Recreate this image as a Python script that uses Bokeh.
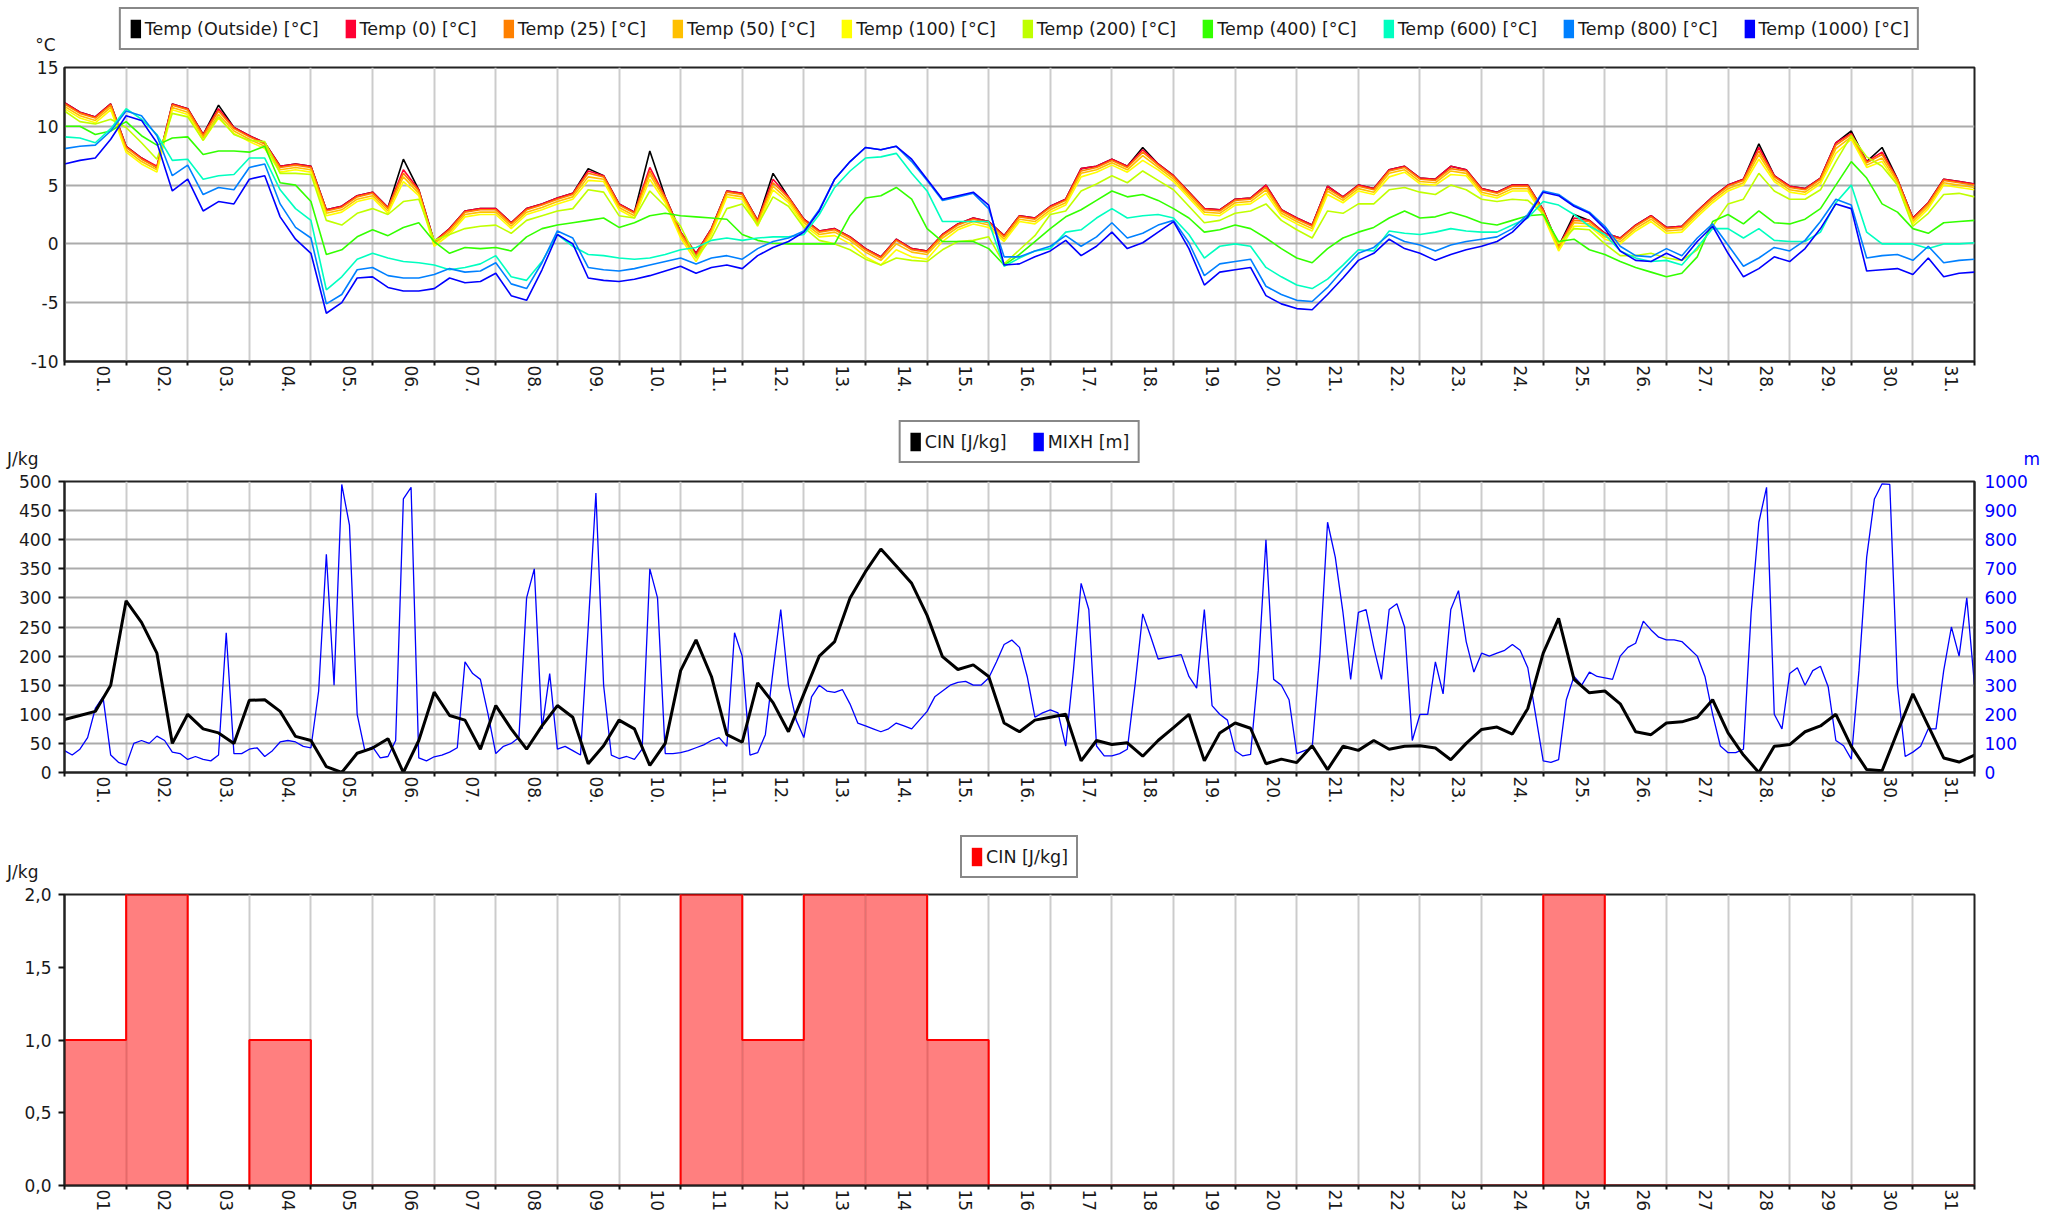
import math
from bokeh.plotting import figure
from bokeh.models import Range1d, LinearAxis, FixedTicker, Legend, LegendItem
from bokeh.layouts import column
from bokeh.embed import file_html
from bokeh.resources import INLINE

FONT = "DejaVu Sans"
TXT = "#1a1a1a"

# ---------------- data ----------------
DAYS = list(range(1, 32))
TOP_LABELS = [f"{d:02d}." for d in DAYS]
BOTTOM_LABELS = [f"{d:02d}" for d in DAYS]
DAY_EDGES = list(range(0, 32))
T_QUARTER = [i / 4 for i in range(125)]   # time in days, 6-hourly
T_EIGHTH = [i / 8 for i in range(249)]    # time in days, 3-hourly

TEMP_NAMES = ["Temp (Outside) [°C]", "Temp (0) [°C]", "Temp (25) [°C]", "Temp (50) [°C]",
              "Temp (100) [°C]", "Temp (200) [°C]", "Temp (400) [°C]", "Temp (600) [°C]",
              "Temp (800) [°C]", "Temp (1000) [°C]"]
TEMP_COLORS = ["#000000", "#FF0033", "#FF8000", "#FFC000", "#FFFF00", "#C0FF00",
               "#33FF00", "#00FFC0", "#0080FF", "#0000FF"]

T_OUT = [12.0, 11.2, 10.8, 11.9, 8.3, 7.3, 6.5, 11.9, 11.5, 9.3, 11.8, 9.9, 9.2, 8.6, 6.6, 6.8,
         6.6, 2.9, 3.2, 4.1, 4.4, 3.1, 7.2, 4.6, 0.2, 1.3, 2.8, 3.0, 3.0, 1.8, 3.0, 3.4,
         3.9, 4.3, 6.4, 5.8, 3.4, 2.7, 7.9, 4.0, 1.0, -0.8, 1.3, 4.5, 4.3, 2.0, 6.0, 4.0,
         2.1, 1.1, 1.3, 0.6, -0.4, -1.1, 0.4, -0.4, -0.6, 0.8, 1.7, 2.2, 1.9, 0.7, 2.4, 2.2,
         3.2, 3.8, 6.4, 6.6, 7.2, 6.6, 8.2, 6.8, 5.8, 4.4, 3.0, 2.9, 3.8, 3.9, 5.0, 2.9,
         2.2, 1.6, 4.9, 4.0, 5.0, 4.7, 6.3, 6.6, 5.6, 5.5, 6.6, 6.3, 4.7, 4.4, 5.0, 5.0,
         2.9, -0.2, 2.5, 2.0, 0.9, 0.5, 1.6, 2.4, 1.4, 1.5, 2.8, 4.0, 5.0, 5.5, 8.5, 5.8,
         4.9, 4.7, 5.6, 8.6, 9.6, 7.0, 8.2, 5.5, 2.2, 3.5, 5.5, 5.3, 5.1]
T_0 = [12.0, 11.2, 10.8, 11.9, 8.3, 7.3, 6.6, 11.9, 11.5, 9.3, 11.5, 9.9, 9.2, 8.6, 6.6, 6.8,
       6.6, 2.9, 3.2, 4.1, 4.4, 3.1, 6.3, 4.6, 0.2, 1.3, 2.8, 3.0, 3.0, 1.8, 3.0, 3.4,
       3.9, 4.3, 6.2, 5.8, 3.4, 2.7, 6.5, 4.0, 1.0, -0.8, 1.3, 4.5, 4.3, 2.0, 5.5, 4.0,
       2.1, 1.1, 1.3, 0.6, -0.4, -1.1, 0.4, -0.4, -0.6, 0.8, 1.7, 2.2, 1.9, 0.7, 2.4, 2.2,
       3.2, 3.8, 6.4, 6.6, 7.2, 6.6, 8.0, 6.8, 5.8, 4.4, 3.0, 2.9, 3.8, 3.9, 5.0, 2.9,
       2.2, 1.6, 4.9, 4.0, 5.0, 4.7, 6.3, 6.6, 5.6, 5.5, 6.6, 6.3, 4.7, 4.4, 5.0, 5.0,
       2.9, -0.2, 2.2, 2.0, 0.9, 0.5, 1.6, 2.4, 1.4, 1.5, 2.8, 4.0, 5.0, 5.5, 8.2, 5.8,
       4.9, 4.7, 5.6, 8.6, 9.4, 7.0, 7.8, 5.5, 2.2, 3.5, 5.5, 5.3, 5.1]
T_25 = [11.9, 11.1, 10.7, 11.8, 8.2, 7.2, 6.5, 11.8, 11.4, 9.2, 11.3, 9.8, 9.1, 8.5, 6.5, 6.7,
        6.5, 2.8, 3.1, 4.0, 4.3, 3.0, 6.0, 4.5, 0.1, 1.2, 2.7, 2.9, 2.9, 1.7, 2.9, 3.3,
        3.8, 4.2, 6.0, 5.7, 3.3, 2.6, 6.2, 3.9, 0.9, -1.0, 1.2, 4.4, 4.2, 1.9, 5.2, 3.9,
        2.0, 1.0, 1.2, 0.5, -0.5, -1.2, 0.3, -0.5, -0.7, 0.7, 1.6, 2.1, 1.8, 0.6, 2.3, 2.1,
        3.1, 3.7, 6.2, 6.5, 7.1, 6.5, 7.8, 6.7, 5.7, 4.3, 2.9, 2.8, 3.7, 3.8, 4.8, 2.8,
        2.1, 1.5, 4.7, 3.9, 4.9, 4.6, 6.2, 6.5, 5.5, 5.4, 6.4, 6.2, 4.6, 4.3, 4.9, 4.9,
        2.8, -0.3, 2.0, 1.9, 0.8, 0.4, 1.5, 2.3, 1.3, 1.4, 2.7, 3.9, 4.9, 5.4, 7.9, 5.7,
        4.8, 4.6, 5.5, 8.4, 9.3, 6.9, 7.6, 5.4, 2.1, 3.4, 5.4, 5.2, 5.0]
T_50 = [11.7, 10.9, 10.5, 11.6, 8.0, 7.0, 6.3, 11.6, 11.2, 9.0, 11.0, 9.6, 8.9, 8.3, 6.3, 6.5,
        6.3, 2.6, 2.9, 3.8, 4.1, 2.8, 5.7, 4.3, 0.0, 1.0, 2.5, 2.7, 2.7, 1.5, 2.7, 3.1,
        3.6, 4.0, 5.7, 5.5, 3.1, 2.4, 5.9, 3.7, 0.7, -1.2, 1.0, 4.2, 4.0, 1.7, 4.9, 3.7,
        1.8, 0.8, 1.0, 0.3, -0.7, -1.4, 0.0, -0.7, -0.9, 0.5, 1.4, 1.9, 1.6, 0.4, 2.1, 1.9,
        2.9, 3.5, 6.0, 6.3, 6.9, 6.3, 7.5, 6.5, 5.5, 4.1, 2.7, 2.6, 3.5, 3.6, 4.6, 2.6,
        1.9, 1.3, 4.5, 3.7, 4.7, 4.4, 6.0, 6.3, 5.3, 5.2, 6.2, 6.0, 4.4, 4.1, 4.7, 4.7,
        2.6, -0.4, 1.8, 1.7, 0.6, 0.2, 1.3, 2.1, 1.1, 1.2, 2.5, 3.7, 4.7, 5.2, 7.6, 5.5,
        4.6, 4.4, 5.3, 8.1, 9.1, 6.7, 7.3, 5.2, 1.9, 3.2, 5.2, 5.0, 4.8]
T_100 = [11.5, 10.7, 10.3, 11.4, 7.8, 6.8, 6.1, 11.4, 11.0, 8.8, 10.7, 9.4, 8.7, 8.1, 6.1, 6.3,
         6.1, 2.4, 2.7, 3.6, 3.9, 2.6, 5.3, 4.1, -0.2, 0.8, 2.3, 2.5, 2.5, 1.3, 2.5, 2.9,
         3.4, 3.8, 5.4, 5.3, 2.9, 2.2, 5.5, 3.5, 0.5, -1.5, 0.8, 4.0, 3.8, 1.5, 4.6, 3.5,
         1.6, 0.6, 0.7, 0.0, -1.1, -1.8, -0.5, -1.1, -1.3, 0.2, 1.2, 1.7, 1.4, 0.2, 1.9, 1.7,
         2.7, 3.3, 5.7, 6.1, 6.7, 6.1, 7.1, 6.3, 5.3, 3.9, 2.5, 2.4, 3.3, 3.4, 4.3, 2.4,
         1.7, 1.1, 4.2, 3.5, 4.5, 4.2, 5.7, 6.1, 5.1, 5.0, 5.9, 5.8, 4.2, 3.9, 4.5, 4.5,
         2.4, -0.6, 1.5, 1.5, 0.4, 0.0, 1.1, 1.9, 0.9, 1.0, 2.3, 3.5, 4.5, 5.0, 7.2, 5.3,
         4.4, 4.2, 5.1, 7.7, 8.9, 6.5, 7.0, 5.0, 1.7, 3.0, 5.0, 4.8, 4.6]
T_200 = [11.3, 10.4, 10.2, 10.6, 9.9, 8.6, 7.2, 11.1, 10.8, 8.8, 10.8, 9.3, 8.8, 8.7, 6.0, 6.0,
         5.9, 2.0, 1.6, 2.6, 3.0, 2.5, 3.6, 3.8, 0.3, 0.8, 1.3, 1.5, 1.6, 0.9, 2.0, 2.4,
         2.8, 3.0, 4.6, 4.4, 2.4, 2.2, 4.5, 3.2, 1.5, -1.2, 0.5, 3.0, 3.4, 1.6, 4.0, 3.2,
         1.4, 0.3, 0.0, -0.5, -1.3, -1.8, -1.2, -1.4, -1.5, -0.5, 0.2, 0.3, 0.6, -1.7, -0.5, 0.7,
         2.5, 2.8, 4.5, 5.1, 5.8, 5.2, 6.2, 5.4, 4.6, 3.2, 1.8, 2.0, 2.6, 2.8, 3.4, 2.0,
         1.2, 0.5, 2.8, 2.6, 3.4, 3.4, 4.6, 4.8, 4.4, 4.2, 5.0, 4.6, 3.8, 3.6, 3.8, 3.7,
         2.6, 0.0, 1.3, 1.2, 0.0, -1.0, -1.0, -0.8, -1.2, -1.4, -0.5, 1.5, 3.4, 3.8, 6.0, 4.5,
         3.8, 3.8, 4.6, 7.0, 9.2, 7.4, 6.6, 5.0, 1.5, 2.6, 4.2, 4.3, 4.0]
T_400 = [10.0, 10.0, 9.3, 9.6, 10.4, 9.2, 8.4, 9.0, 9.1, 7.6, 7.9, 7.9, 7.8, 8.3, 5.2, 5.0,
         3.6, -0.9, -0.5, 0.6, 1.2, 0.7, 1.4, 1.8, 0.2, -0.8, -0.3, -0.4, -0.3, -0.6, 0.6, 1.3,
         1.6, 1.8, 2.0, 2.2, 1.4, 1.8, 2.4, 2.6, 2.4, 2.3, 2.2, 2.1, 0.8, 0.3, 0.05, 0.0,
         0.0, 0.0, 0.0, 2.4, 3.9, 4.1, 4.8, 3.8, 1.3, 0.2, 0.2, 0.2, -0.4, -1.8, -0.9, 0.2,
         1.3, 2.3, 2.9, 3.7, 4.5, 4.0, 4.2, 3.7, 3.0, 2.2, 1.0, 1.2, 1.6, 1.3, 0.5, -0.4,
         -1.2, -1.6, -0.4, 0.5, 1.0, 1.4, 2.2, 2.8, 2.2, 2.3, 2.7, 2.3, 1.8, 1.6, 2.0, 2.4,
         2.5, 0.2, 0.4, -0.5, -0.9, -1.5, -2.0, -2.4, -2.8, -2.5, -1.1, 1.9, 2.5, 1.7, 2.8, 1.8,
         1.7, 2.1, 3.0, 5.0, 7.0, 5.6, 3.4, 2.7, 1.3, 0.9, 1.8, 1.9, 2.0]
T_600 = [9.1, 9.0, 8.6, 9.8, 11.5, 10.6, 9.3, 7.1, 7.2, 5.5, 5.8, 5.9, 7.3, 7.3, 4.6, 3.0,
         2.0, -3.9, -2.8, -1.3, -0.8, -1.2, -1.5, -1.6, -1.8, -2.2, -2.0, -1.7, -1.0, -2.8, -3.1, -1.5,
         0.8, -0.2, -0.9, -1.0, -1.2, -1.3, -1.2, -0.9, -0.5, -0.3, 0.3, 0.5, 0.3, 0.5, 0.6, 0.6,
         0.8, 2.5, 4.8, 6.2, 7.3, 7.4, 7.7, 6.0, 4.5, 1.9, 1.9, 1.9, 1.9, -1.9, -1.2, -0.6,
         -0.4, 1.0, 1.2, 2.2, 3.0, 2.2, 2.4, 2.5, 2.2, 0.8, -1.2, -0.2, 0.0, -0.2, -2.0, -2.8,
         -3.5, -3.8, -3.0, -1.8, -0.5, -0.6, 1.1, 0.9, 0.8, 1.0, 1.3, 1.1, 1.0, 1.0, 1.6, 2.2,
         3.6, 3.3, 2.5, 1.5, 0.8, -0.6, -1.2, -1.5, -1.4, -1.8, -0.3, 1.3, 1.3, 0.5, 1.3, 0.3,
         0.2, 0.2, 1.0, 3.5, 5.0, 1.0, 0.0, 0.0, 0.0, -0.4, 0.0, 0.0, 0.1]
T_800 = [8.1, 8.3, 8.4, 9.6, 11.3, 10.9, 9.2, 5.8, 6.7, 4.2, 4.8, 4.6, 6.5, 6.8, 3.4, 1.4,
         0.5, -5.1, -4.3, -2.2, -2.0, -2.7, -2.9, -2.9, -2.6, -2.1, -2.4, -2.3, -1.6, -3.4, -3.8, -1.6,
         1.1, 0.5, -2.0, -2.2, -2.3, -2.1, -1.8, -1.5, -1.2, -1.7, -1.2, -1.0, -1.3, -0.4, 0.2, 0.5,
         1.1, 2.9, 5.5, 7.0, 8.2, 8.0, 8.3, 7.0, 5.4, 3.7, 4.0, 4.3, 3.0, -1.1, -1.1, -0.6,
         -0.2, 0.7, -0.2, 0.6, 1.8, 0.5, 0.9, 1.6, 2.0, 0.1, -2.7, -1.7, -1.5, -1.3, -3.6, -4.3,
         -4.8, -4.9, -3.7, -2.2, -0.8, -0.3, 0.8, 0.2, -0.1, -0.6, -0.1, 0.2, 0.4, 0.6, 1.3, 2.5,
         4.5, 4.2, 3.3, 2.7, 1.5, -0.2, -1.0, -1.1, -0.4, -1.0, 0.5, 1.7, -0.1, -1.9, -1.2, -0.3,
         -0.6, 0.3, 1.9, 3.8, 3.3, -1.2, -1.0, -0.9, -1.4, -0.2, -1.6, -1.4, -1.3]
T_1000 = [6.8, 7.1, 7.3, 8.9, 10.9, 10.5, 8.6, 4.5, 5.5, 2.8, 3.6, 3.4, 5.5, 5.8, 2.3, 0.4,
          -0.8, -5.9, -5.0, -2.9, -2.8, -3.7, -4.0, -4.0, -3.8, -2.9, -3.3, -3.2, -2.5, -4.4, -4.8, -2.2,
          0.8, 0.0, -2.9, -3.1, -3.2, -3.0, -2.7, -2.3, -1.9, -2.5, -2.0, -1.8, -2.1, -1.0, -0.3, 0.2,
          1.0, 2.8, 5.5, 7.0, 8.2, 8.0, 8.3, 7.2, 5.5, 3.8, 4.1, 4.4, 3.3, -1.8, -1.7, -1.1,
          -0.6, 0.3, -1.0, -0.2, 1.0, -0.4, 0.1, 1.0, 1.9, -0.4, -3.5, -2.4, -2.2, -2.0, -4.4, -5.1,
          -5.5, -5.6, -4.3, -2.9, -1.4, -0.8, 0.4, -0.4, -0.8, -1.4, -0.9, -0.5, -0.2, 0.2, 1.0, 2.3,
          4.4, 4.1, 3.2, 2.6, 1.3, -0.6, -1.4, -1.5, -0.8, -1.4, 0.2, 1.5, -0.8, -2.8, -2.1, -1.1,
          -1.5, -0.4, 1.3, 3.4, 3.0, -2.3, -2.2, -2.1, -2.6, -1.2, -2.8, -2.5, -2.4]
TEMPS = [T_OUT, T_0, T_25, T_50, T_100, T_200, T_400, T_600, T_800, T_1000]

CIN = [91, 98, 105, 150, 295, 258, 205, 50, 100, 75, 68, 50, 124, 125, 105, 62,
       55, 10, 0, 33, 42, 58, 0, 55, 138, 98, 90, 40, 115, 75, 40, 80,
       115, 95, 15, 46, 90, 75, 12, 50, 175, 228, 165, 65, 52, 154, 120, 70,
       135, 200, 225, 300, 345, 384, 355, 325, 270, 199, 177, 185, 165, 85, 70, 90,
       95, 100, 20, 55, 48, 51, 28, 55, 77, 100, 20, 68, 85, 76, 15, 23,
       17, 46, 5, 45, 38, 55, 40, 45, 46, 42, 22, 50, 74, 78, 66, 110,
       205, 265, 160, 137, 140, 118, 70, 65, 85, 87, 95, 125, 68, 30, 0, 45,
       48, 70, 80, 100, 45, 5, 3, 70, 135, 80, 25, 18, 30]
MIXH = [75, 60, 80, 120, 220, 260, 60, 35, 25, 100, 110, 100, 125, 110, 70, 65,
        45, 55, 45, 40, 60, 480, 65, 65, 80, 85, 55, 75, 105, 110, 105, 90,
        85, 280, 750, 300, 990, 850, 200, 75, 88, 50, 55, 110, 940, 980, 50, 40,
        54, 60, 70, 85, 380, 340, 320, 200, 65, 90, 100, 120, 600, 700, 150, 340,
        80, 90, 75, 60, 500, 960, 300, 60, 48, 55, 45, 80, 700, 600, 65, 65,
        68, 75, 85, 95, 110, 120, 90, 480, 400, 60, 68, 130, 350, 560, 300, 180,
        120, 260, 300, 280, 275, 285, 235, 170, 160, 150, 140, 150, 170, 160, 150, 180,
        210, 260, 280, 300, 310, 313, 300, 300, 325, 380, 440, 455, 430, 330, 190, 205,
        215, 205, 91, 350, 650, 560, 91, 57, 57, 65, 80, 300, 545, 470, 390, 395,
        400, 405, 330, 290, 560, 230, 200, 180, 75, 57, 62, 350, 800, 320, 300, 250,
        65, 75, 85, 400, 860, 740, 550, 320, 550, 560, 430, 320, 560, 580, 500, 110,
        200, 200, 380, 270, 560, 625, 450, 345, 410, 400, 410, 420, 440, 420, 360, 200,
        40, 35, 44, 250, 330, 300, 345, 330, 325, 320, 400, 430, 444, 520, 490, 465,
        456, 456, 450, 425, 400, 330, 200, 91, 68, 68, 80, 550, 860, 980, 200, 150,
        340, 360, 300, 350, 365, 295, 110, 92, 46, 350, 740, 940, 992, 990, 300, 55,
        70, 90, 150, 150, 350, 500, 400, 600, 300]
CIN_DAILY = [1, 2, 0, 1, 0, 0, 0, 0, 0, 0, 2, 1, 2, 2, 1, 0, 0, 0, 0, 0, 0, 0, 0, 0, 2, 0, 0, 0, 0, 0, 0]

TEMP_TICKS = [-10, -5, 0, 5, 10, 15]
CIN_TICKS = [0, 50, 100, 150, 200, 250, 300, 350, 400, 450, 500]
MIXH_TICKS = [0, 100, 200, 300, 400, 500, 600, 700, 800, 900, 1000]
BAR_TICKS = [0.0, 0.5, 1.0, 1.5, 2.0]
BAR_TICK_LABELS = ["0,0", "0,5", "1,0", "1,5", "2,0"]

LABEL_POS = [d - 0.37 for d in DAYS]

# ---------------- layout constants ----------------
W = 2053
BL, BR = 64, 79                 # borders around the plot frame


def unit_axis(h, side, y, text, color, standoff):
    ax = LinearAxis(ticker=FixedTicker(ticks=[y]), major_label_overrides={y: text})
    ax.axis_line_color = None
    ax.major_tick_line_color = None
    ax.minor_tick_line_color = None
    ax.major_label_standoff = standoff
    ax.major_label_text_font = FONT
    ax.major_label_text_font_size = "17px"
    ax.major_label_text_color = color
    h.add_layout(ax, side)


def header(height, names, colors, legend_top, units):
    h = figure(width=W, height=height, x_range=Range1d(0, 31), y_range=Range1d(0, height),
               output_backend="svg", toolbar_location=None, title=None,
               x_axis_location=None, y_axis_location=None,
               min_border_left=BL, min_border_right=BR, min_border_top=0, min_border_bottom=0,
               background_fill_color="white", border_fill_color="white")
    h.grid.visible = False
    h.outline_line_color = None
    items = []
    for n, c in zip(names, colors):
        r = h.quad(left=[math.nan], right=[math.nan], top=[math.nan], bottom=[math.nan],
                   fill_color=c, line_color=None)
        items.append(LegendItem(label=n, renderers=[r]))
    leg = Legend(items=items, orientation="horizontal", location="top_center",
                 glyph_width=13, glyph_height=23, label_standoff=3, spacing=25,
                 padding=8, margin=legend_top, label_text_font=FONT, label_text_font_size="17.5px",
                 label_text_color=TXT, border_line_color="#111111", border_line_width=2,
                 background_fill_color="white", background_fill_alpha=1.0)
    h.add_layout(leg, "center")
    for side, y_from_top, text, color, standoff in units:
        unit_axis(h, side, height - y_from_top, text, color, standoff)
    return h


def make_fig(height, bottom, y0, y1, xlabels):
    p = figure(width=W, height=height, x_range=Range1d(0, 31), y_range=Range1d(y0, y1),
               output_backend="svg", toolbar_location=None, title=None,
               min_border_left=BL, min_border_right=BR, min_border_top=12, min_border_bottom=bottom,
               background_fill_color="white", border_fill_color="white")
    p.outline_line_color = "#222222"
    p.outline_line_width = 2
    ax = p.xaxis[0]
    ax.ticker = FixedTicker(ticks=LABEL_POS, minor_ticks=DAY_EDGES)
    ax.major_label_overrides = {pos: lab for pos, lab in zip(LABEL_POS, xlabels)}
    ax.major_label_orientation = -math.pi / 2
    ax.major_tick_out = 0
    ax.major_tick_in = 0
    ax.minor_tick_out = 4
    ax.minor_tick_in = 0
    ax.minor_tick_line_color = "#111111"
    ax.minor_tick_line_width = 2
    ax.major_label_standoff = 0
    ax.axis_label_standoff = 0
    ax.axis_line_color = "#222222"
    ax.axis_line_width = 2
    ax.major_label_text_font = FONT
    ax.major_label_text_font_size = "17px"
    ax.major_label_text_color = TXT
    p.xgrid.ticker = FixedTicker(ticks=DAY_EDGES)
    p.xgrid.grid_line_color = "#CCCCCC"
    p.xgrid.grid_line_width = 2
    p.ygrid.grid_line_color = "#ABABAB"
    p.ygrid.grid_line_width = 2
    ay = p.yaxis[0]
    ay.axis_line_color = "#222222"
    ay.axis_line_width = 2
    ay.major_label_text_font = FONT
    ay.major_label_text_font_size = "17px"
    ay.major_label_text_color = TXT
    ay.minor_tick_line_color = None
    return p


# ---------------- top: temperatures ----------------
h1 = header(55, TEMP_NAMES, TEMP_COLORS, 7, [("left", 46, "°C", TXT, 3)])
p1 = make_fig(353, 47, -10, 15, TOP_LABELS)
p1.yaxis[0].ticker = FixedTicker(ticks=TEMP_TICKS)
p1.yaxis[0].major_label_overrides = {v: str(v) for v in TEMP_TICKS}
p1.yaxis[0].major_tick_out = 0
p1.yaxis[0].major_tick_in = 0
p1.yaxis[0].major_label_standoff = 6
for ys, c in zip(TEMPS, TEMP_COLORS):
    p1.line(T_QUARTER, ys, line_color=c, line_width=1.6)

# ---------------- middle: CIN and MIXH ----------------
h2 = header(61, ["CIN [J/kg]", "MIXH [m]"], ["#000000", "#0000FF"], 12,
            [("left", 50, "J/kg", TXT, 20), ("right", 50, "m", "#0000FF", 43)])
p2 = make_fig(349, 46, 0, 500, TOP_LABELS)
p2.yaxis[0].ticker = FixedTicker(ticks=CIN_TICKS)
p2.yaxis[0].major_tick_out = 6
p2.yaxis[0].major_tick_in = 0
p2.yaxis[0].major_tick_line_color = "#111111"
p2.yaxis[0].major_tick_line_width = 2
p2.yaxis[0].major_label_standoff = 7
p2.extra_y_ranges = {"mixh": Range1d(0, 1000)}
right = LinearAxis(y_range_name="mixh", ticker=FixedTicker(ticks=MIXH_TICKS))
right.major_tick_out = 0
right.major_tick_in = 0
right.minor_tick_line_color = None
right.axis_line_color = "#222222"
right.axis_line_width = 2
right.major_label_standoff = 10
right.major_label_text_font = FONT
right.major_label_text_font_size = "17px"
right.major_label_text_color = "#0000FF"
p2.add_layout(right, "right")
p2.line(T_EIGHTH, MIXH, line_color="#0000FF", line_width=1.3, y_range_name="mixh")
p2.line(T_QUARTER, CIN, line_color="#000000", line_width=3)

# ---------------- bottom: daily CIN bars ----------------
h3 = header(64, ["CIN [J/kg]"], ["#FF0000"], 17, [("left", 53, "J/kg", TXT, 20)])
p3 = make_fig(332, 26, 0, 2.0, BOTTOM_LABELS)
p3.yaxis[0].ticker = FixedTicker(ticks=BAR_TICKS)
p3.yaxis[0].major_label_overrides = {v: s for v, s in zip(BAR_TICKS, BAR_TICK_LABELS)}
p3.yaxis[0].major_tick_out = 6
p3.yaxis[0].major_tick_in = 0
p3.yaxis[0].major_tick_line_color = "#111111"
p3.yaxis[0].major_tick_line_width = 2
p3.yaxis[0].major_label_standoff = 7
p3.ygrid.visible = False
p3.quad(left=DAY_EDGES[:-1], right=DAY_EDGES[1:], bottom=0, top=CIN_DAILY,
        fill_color="#FF0000", fill_alpha=0.5, line_color=None)
p3.step(DAY_EDGES, CIN_DAILY + [CIN_DAILY[-1]], mode="after", line_color="#FF0000", line_width=2)

layout = column(h1, p1, h2, p2, h3, p3, spacing=0)
open("out.html", "w").write(file_html(layout, INLINE))
